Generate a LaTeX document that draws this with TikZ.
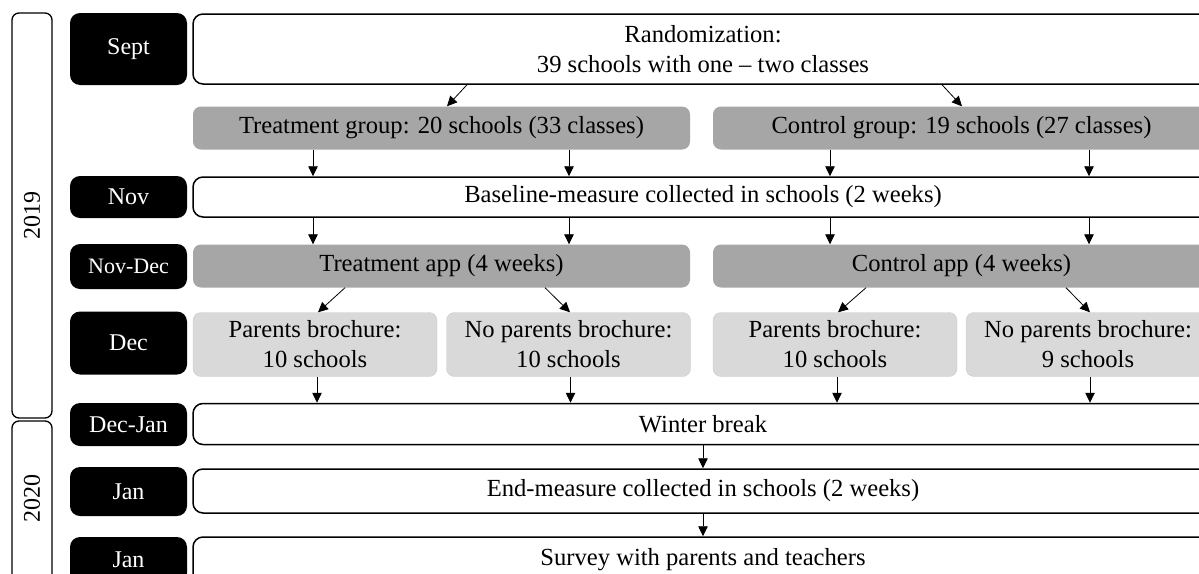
\documentclass[tikz,border=0pt]{standalone}
\usepackage{fontspec}
\setmainfont{Liberation Serif}
\usetikzlibrary{arrows.meta,calc}
\definecolor{groupgray}{RGB}{166,166,166}
\definecolor{subgray}{RGB}{217,217,217}
\tikzset{
  base/.style={inner sep=0pt,align=center,font=\fontsize{24.6}{30}\selectfont},
  monthbox/.style={base,fill=black,text=white,rounded corners=10pt,minimum width=117pt,font=\fontsize{24}{29}\selectfont},
  stagebox/.style={base,draw=black,line width=1.5pt,fill=white,rounded corners=10pt,minimum width=1020pt},
  groupbox/.style={base,fill=groupgray,rounded corners=8pt,minimum width=497pt,minimum height=43pt},
  subbox/.style={base,fill=subgray,draw=black!20,rounded corners=8pt,minimum width=244pt,minimum height=64pt},
  yearbox/.style={base,draw=black,line width=1.3pt,rounded corners=7pt,minimum width=40pt},
  arr/.style={-{Triangle[length=10pt,width=9.5pt]},line width=0.8pt}
}
\begin{document}
\begin{tikzpicture}[x=1pt,y=-1pt]
  \useasboundingbox (0,0) rectangle (1199,573);
  \clip (0,0) rectangle (1199,573);
  \coordinate (c1) at (313,0);
  \coordinate (c2) at (569,0);
  \coordinate (c3) at (830,0);
  \coordinate (c4) at (1089,0);
  \node[yearbox,minimum height=405pt] (y2019) at (32,215.5) {};
  \node[base,rotate=90,font=\fontsize{24}{29}\selectfont] at (y2019) {2019};
  \node[yearbox,minimum height=200pt] (y2020) at (32,521) {};
  \node[base,rotate=90,font=\fontsize{24}{29}\selectfont] at (32,498) {2020};
  \node[monthbox,minimum height=72pt] (sept) at (128.5,49) {Sept};
  \node[monthbox,minimum height=42pt] (nov) at (128.5,197) {Nov};
  \node[monthbox,minimum height=45pt,font=\fontsize{22}{26}\selectfont] (novdec) at (128.5,266.5) {Nov-Dec};
  \node[monthbox,minimum height=63pt] (dec) at (128.5,343) {Dec};
  \node[monthbox,minimum height=43pt] (decjan) at (128.5,424.5) {Dec-Jan};
  \node[monthbox,minimum height=49pt] (jan) at (128.5,491.5) {Jan};
  \node[monthbox,minimum height=46pt] (jantwo) at (128.5,560) {Jan};
  \node[stagebox,minimum height=70pt] (rand) at (703,49) {Randomization:\\39 schools with one -- two classes};
  \node[groupbox] (treat) at (441.5,128) {Treatment group: 20 schools (33 classes)};
  \node[groupbox] (ctrl) at (961.5,128) {Control group: 19 schools (27 classes)};
  \node[stagebox,minimum height=40pt] (baseline) at (703,197) {Baseline-measure collected in schools (2 weeks)};
  \node[groupbox] (tapp) at (441.5,266) {Treatment app (4 weeks)};
  \node[groupbox] (capp) at (961.5,266) {Control app (4 weeks)};
  \node[subbox] (pbone) at (315,344.5) {Parents brochure:\\10 schools};
  \node[subbox] (npbone) at (568.5,344.5) {No parents brochure:\\10 schools};
  \node[subbox] (pbtwo) at (835,344.5) {Parents brochure:\\10 schools};
  \node[subbox] (npbtwo) at (1088,344.5) {No parents brochure:\\9 schools};
  \node[stagebox,minimum height=41pt] (winter) at (703,424) {Winter break};
  \node[stagebox,minimum height=44pt] (endm) at (703,491) {End-measure collected in schools (2 weeks)};
  \node[stagebox,minimum height=46pt] (survey) at (703,560) {Survey with parents and teachers};
  \draw[arr] ($(rand.south)+(-236,0)$) -- ($(treat.north)+(5.5,0)$);
  \draw[arr] ($(rand.south)+(239,0)$) -- ($(ctrl.north)+(0.5,0)$);
  \foreach \c/\g/\a in {c1/treat/tapp,c2/treat/tapp,c3/ctrl/capp,c4/ctrl/capp} {
    \draw[arr] (\g.south -| \c) -- (baseline.north -| \c);
    \draw[arr] (baseline.south -| \c) -- (\a.north -| \c);
  }
  \draw[arr] ($(tapp.south)+(-96.5,0)$) -- ($(pbone.north)+(3,0)$);
  \draw[arr] ($(tapp.south)+(103.5,0)$) -- ($(npbone.north)+(1.5,0)$);
  \draw[arr] ($(capp.south)+(-95.5,0)$) -- ($(pbtwo.north)+(3,0)$);
  \draw[arr] ($(capp.south)+(104.5,0)$) -- ($(npbtwo.north)+(2,0)$);
  \foreach \b in {pbone,npbone,pbtwo,npbtwo}
    \draw[arr] ($(\b.south)+(2,0)$) -- ($(\b.south |- winter.north)+(2,0)$);
  \draw[arr] (winter) -- (endm);
  \draw[arr] (endm) -- (survey);
\end{tikzpicture}
\end{document}
